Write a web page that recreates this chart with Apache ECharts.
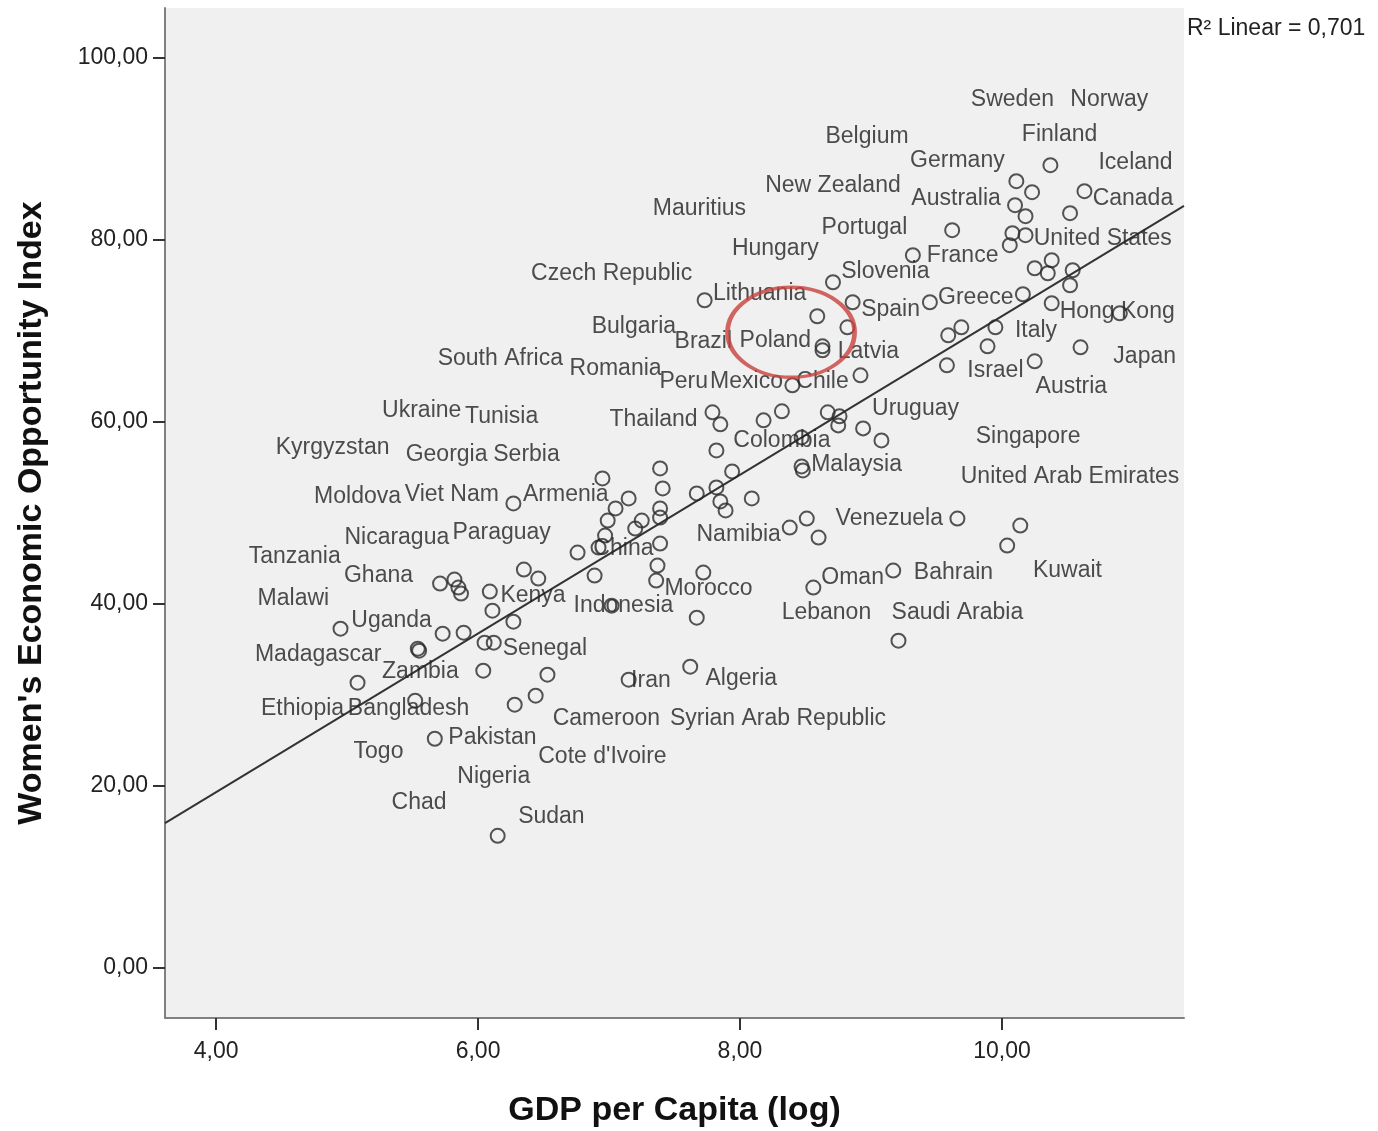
<!DOCTYPE html>
<html>
<head>
<meta charset="utf-8">
<script src="https://cdn.jsdelivr.net/npm/echarts@6/dist/echarts.min.js"></script>
<style>
html,body{margin:0;padding:0;background:#fff;}
#chart{width:1378px;height:1131px;}
</style>
</head>
<body>
<div id="chart"></div>
<script>
// ---- data ----
const pointX = [6.27,5.71,5.82,5.85,5.87,6.35,6.46,6.09,6.11,6.27,4.95,5.73,5.89,6.05,6.12,5.54,5.55,6.04,6.53,5.08,5.52,6.44,6.28,5.67,6.15,
  7.79,7.85,8.18,8.32,7.82,7.39,6.95,7.41,7.15,7.05,6.99,7.39,7.39,7.67,7.82,7.94,7.85,7.89,8.09,7.25,7.20,6.97,6.92,6.76,7.39,6.89,7.37,7.36,7.72,7.02,7.67,8.38,7.62,7.15,
  8.71,7.73,8.86,8.59,8.82,8.63,8.63,8.92,8.40,9.32,9.45,10.37,10.11,10.23,10.10,10.18,10.63,10.52,9.62,10.08,10.18,10.06,10.38,10.25,10.35,10.54,10.52,10.16,10.38,10.90,9.69,9.59,9.95,9.89,10.60,9.58,10.25,
  8.67,8.76,8.75,8.94,9.08,8.47,8.47,8.48,8.51,8.60,9.66,8.56,9.17,9.21,10.14,10.04];
const pointY = [51.05,42.24,42.68,41.80,41.14,43.78,42.79,41.36,39.27,38.06,37.29,36.74,36.85,35.75,35.75,35.09,34.87,32.67,32.23,31.35,29.37,29.92,28.93,25.19,14.52,
  61.06,59.74,60.18,61.17,56.88,54.90,53.80,52.70,51.60,50.50,49.17,50.50,49.50,52.15,52.81,54.57,51.27,50.28,51.60,49.17,48.29,47.52,46.20,45.65,46.64,43.12,44.22,42.57,43.45,39.82,38.50,48.40,33.11,31.68,
  75.36,73.38,73.16,71.62,70.41,68.32,67.88,65.13,64.03,78.33,73.16,88.23,86.47,85.26,83.83,82.62,85.37,82.95,81.08,80.75,80.53,79.43,77.78,76.90,76.35,76.68,75.03,74.04,73.05,71.95,70.41,69.53,70.41,68.32,68.21,66.23,66.67,
  61.06,60.62,59.63,59.30,57.98,58.31,55.12,54.68,49.39,47.30,49.39,41.80,43.67,35.97,48.62,46.42];

const labelNames = ["Sweden","Norway","Belgium","Finland","Germany","Iceland","New Zealand","Australia","Canada","Mauritius",
  "Portugal","United States","Hungary","France","Czech Republic","Slovenia","Lithuania","Greece","Spain","Hong Kong",
  "Bulgaria","Italy","Brazil","Poland","Latvia","South Africa","Japan","Romania","Israel","Peru",
  "Mexico","Chile","Austria","Ukraine","Tunisia","Uruguay","Thailand","Colombia","Singapore","Kyrgyzstan",
  "Georgia","Serbia","Malaysia","United Arab Emirates","Moldova","Viet Nam","Armenia","Venezuela","Namibia","Nicaragua",
  "Paraguay","China","Tanzania","Ghana","Kuwait","Oman","Bahrain","Morocco","Malawi","Kenya",
  "Indonesia","Lebanon","Saudi Arabia","Uganda","Senegal","Madagascar","Zambia","Iran","Algeria","Ethiopia",
  "Bangladesh","Cameroon","Syrian Arab Republic","Pakistan","Togo","Cote d'Ivoire","Nigeria","Chad","Sudan"];
const labelX = [10.08,10.82,8.97,10.44,9.66,11.02,8.71,9.65,11.00,7.69,
  8.95,10.77,8.27,9.70,7.02,9.11,8.15,9.80,9.15,10.88,
  7.19,10.26,7.72,8.27,8.98,6.17,11.09,7.05,9.95,7.57,
  8.05,8.63,10.53,5.57,6.18,9.34,7.34,8.32,10.20,4.89,
  5.76,6.37,8.89,10.52,5.08,5.80,6.67,9.14,7.99,5.38,
  6.18,7.11,4.60,5.24,10.50,8.86,9.63,7.76,4.59,6.42,
  7.11,8.66,9.66,5.34,6.51,4.78,5.56,7.32,8.01,4.66,
  5.47,6.98,8.29,6.11,5.24,6.95,6.12,5.55,6.56];
const labelY = [95.38,95.38,91.31,91.53,88.67,88.45,86.03,84.60,84.60,83.50,
  81.41,80.20,79.10,78.33,76.35,76.57,74.15,73.71,72.39,72.17,
  70.52,70.08,68.87,68.98,67.77,67.00,67.22,65.90,65.68,64.47,
  64.47,64.47,63.92,61.28,60.62,61.50,60.29,57.98,58.42,57.21,
  56.44,56.44,55.34,54.02,51.82,52.04,52.04,49.39,47.63,47.30,
  47.85,46.09,45.21,43.12,43.67,42.90,43.45,41.69,40.59,40.92,
  39.82,39.05,39.05,38.17,35.09,34.43,32.56,31.57,31.79,28.49,
  28.49,27.39,27.39,25.30,23.76,23.21,21.01,18.15,16.61];

const xTicks = [4, 6, 8, 10];
const yTicks = [0, 20, 40, 60, 80, 100];
const fitSlope = 8.72, fitIntercept = -15.57;
const rSquaredText = "R² Linear = 0,701";
const highlight = [8.39, 69.86]; // red ellipse around Poland
const xMin = 3.61, xMax = 11.39, yMin = -5.5, yMax = 105.5;

// ---- build ----
const points = pointX.map((x, i) => [x, pointY[i]]);
const labels = labelNames.map((n, i) => ({ value: [labelX[i], labelY[i]], name: n }));
const fitLine = [[xMin, fitIntercept + fitSlope * xMin], [xMax, fitIntercept + fitSlope * xMax]];
const fmt = v => v.toFixed(2).replace('.', ',');
const FONT = "'Liberation Sans', Arial, sans-serif";

const chart = echarts.init(document.getElementById('chart'));
chart.setOption({
  animation: false,
  backgroundColor: '#ffffff',
  grid: { left: 165, right: 194, top: 8, bottom: 113, show: true, backgroundColor: '#f0f0f0', borderWidth: 0, outerBoundsMode: 'none', containLabel: false },
  xAxis: {
    type: 'value', min: xMin, max: xMax,
    name: 'GDP per Capita (log)', nameLocation: 'middle', nameGap: 76,
    nameTextStyle: { fontFamily: FONT, fontSize: 34, fontWeight: 'bold', color: '#111' },
    axisLine: { show: true, onZero: false, lineStyle: { color: '#808080', width: 2 } },
    axisTick: { show: true, length: 12, lineStyle: { color: '#333', width: 2 }, customValues: xTicks },
    axisLabel: { customValues: xTicks, formatter: fmt, margin: 22, fontFamily: FONT, fontSize: 23, color: '#222' },
    splitLine: { show: false }
  },
  yAxis: {
    type: 'value', min: yMin, max: yMax,
    name: "Women's Economic Opportunity Index", nameLocation: 'middle', nameGap: 116,
    nameTextStyle: { fontFamily: FONT, fontSize: 34, fontWeight: 'bold', color: '#111' },
    axisLine: { show: true, onZero: false, lineStyle: { color: '#808080', width: 2 } },
    axisTick: { show: true, length: 12, lineStyle: { color: '#333', width: 2 }, customValues: yTicks },
    axisLabel: { customValues: yTicks, formatter: fmt, margin: 17, fontFamily: FONT, fontSize: 23, color: '#222' },
    splitLine: { show: false }
  },
  series: [
    {
      type: 'line', data: fitLine, symbol: 'none', silent: true, z: 2,
      lineStyle: { color: '#333', width: 2 }
    },
    {
      type: 'scatter', data: points, symbol: 'circle', symbolSize: 14, silent: true, z: 3,
      itemStyle: { color: 'rgba(0,0,0,0)', borderColor: '#2a2a2a', borderWidth: 2 }
    },
    {
      type: 'scatter', data: labels, symbolSize: 0, silent: true, z: 4,
      itemStyle: { color: 'rgba(0,0,0,0)' },
      label: { show: true, position: 'inside', formatter: p => p.name, fontFamily: FONT, fontSize: 23, color: '#222' }
    },
    {
      type: 'scatter', data: [highlight], symbol: 'circle', symbolSize: [127, 90], silent: true, z: 5,
      itemStyle: { color: 'rgba(0,0,0,0)', borderColor: '#c8413c', borderWidth: 4 }
    }
  ],
  graphic: [
    { type: 'text', left: 1187, top: 17, style: { text: rSquaredText, fontFamily: FONT, fontSize: 23, fill: '#222' } }
  ]
});
</script>
</body>
</html>
